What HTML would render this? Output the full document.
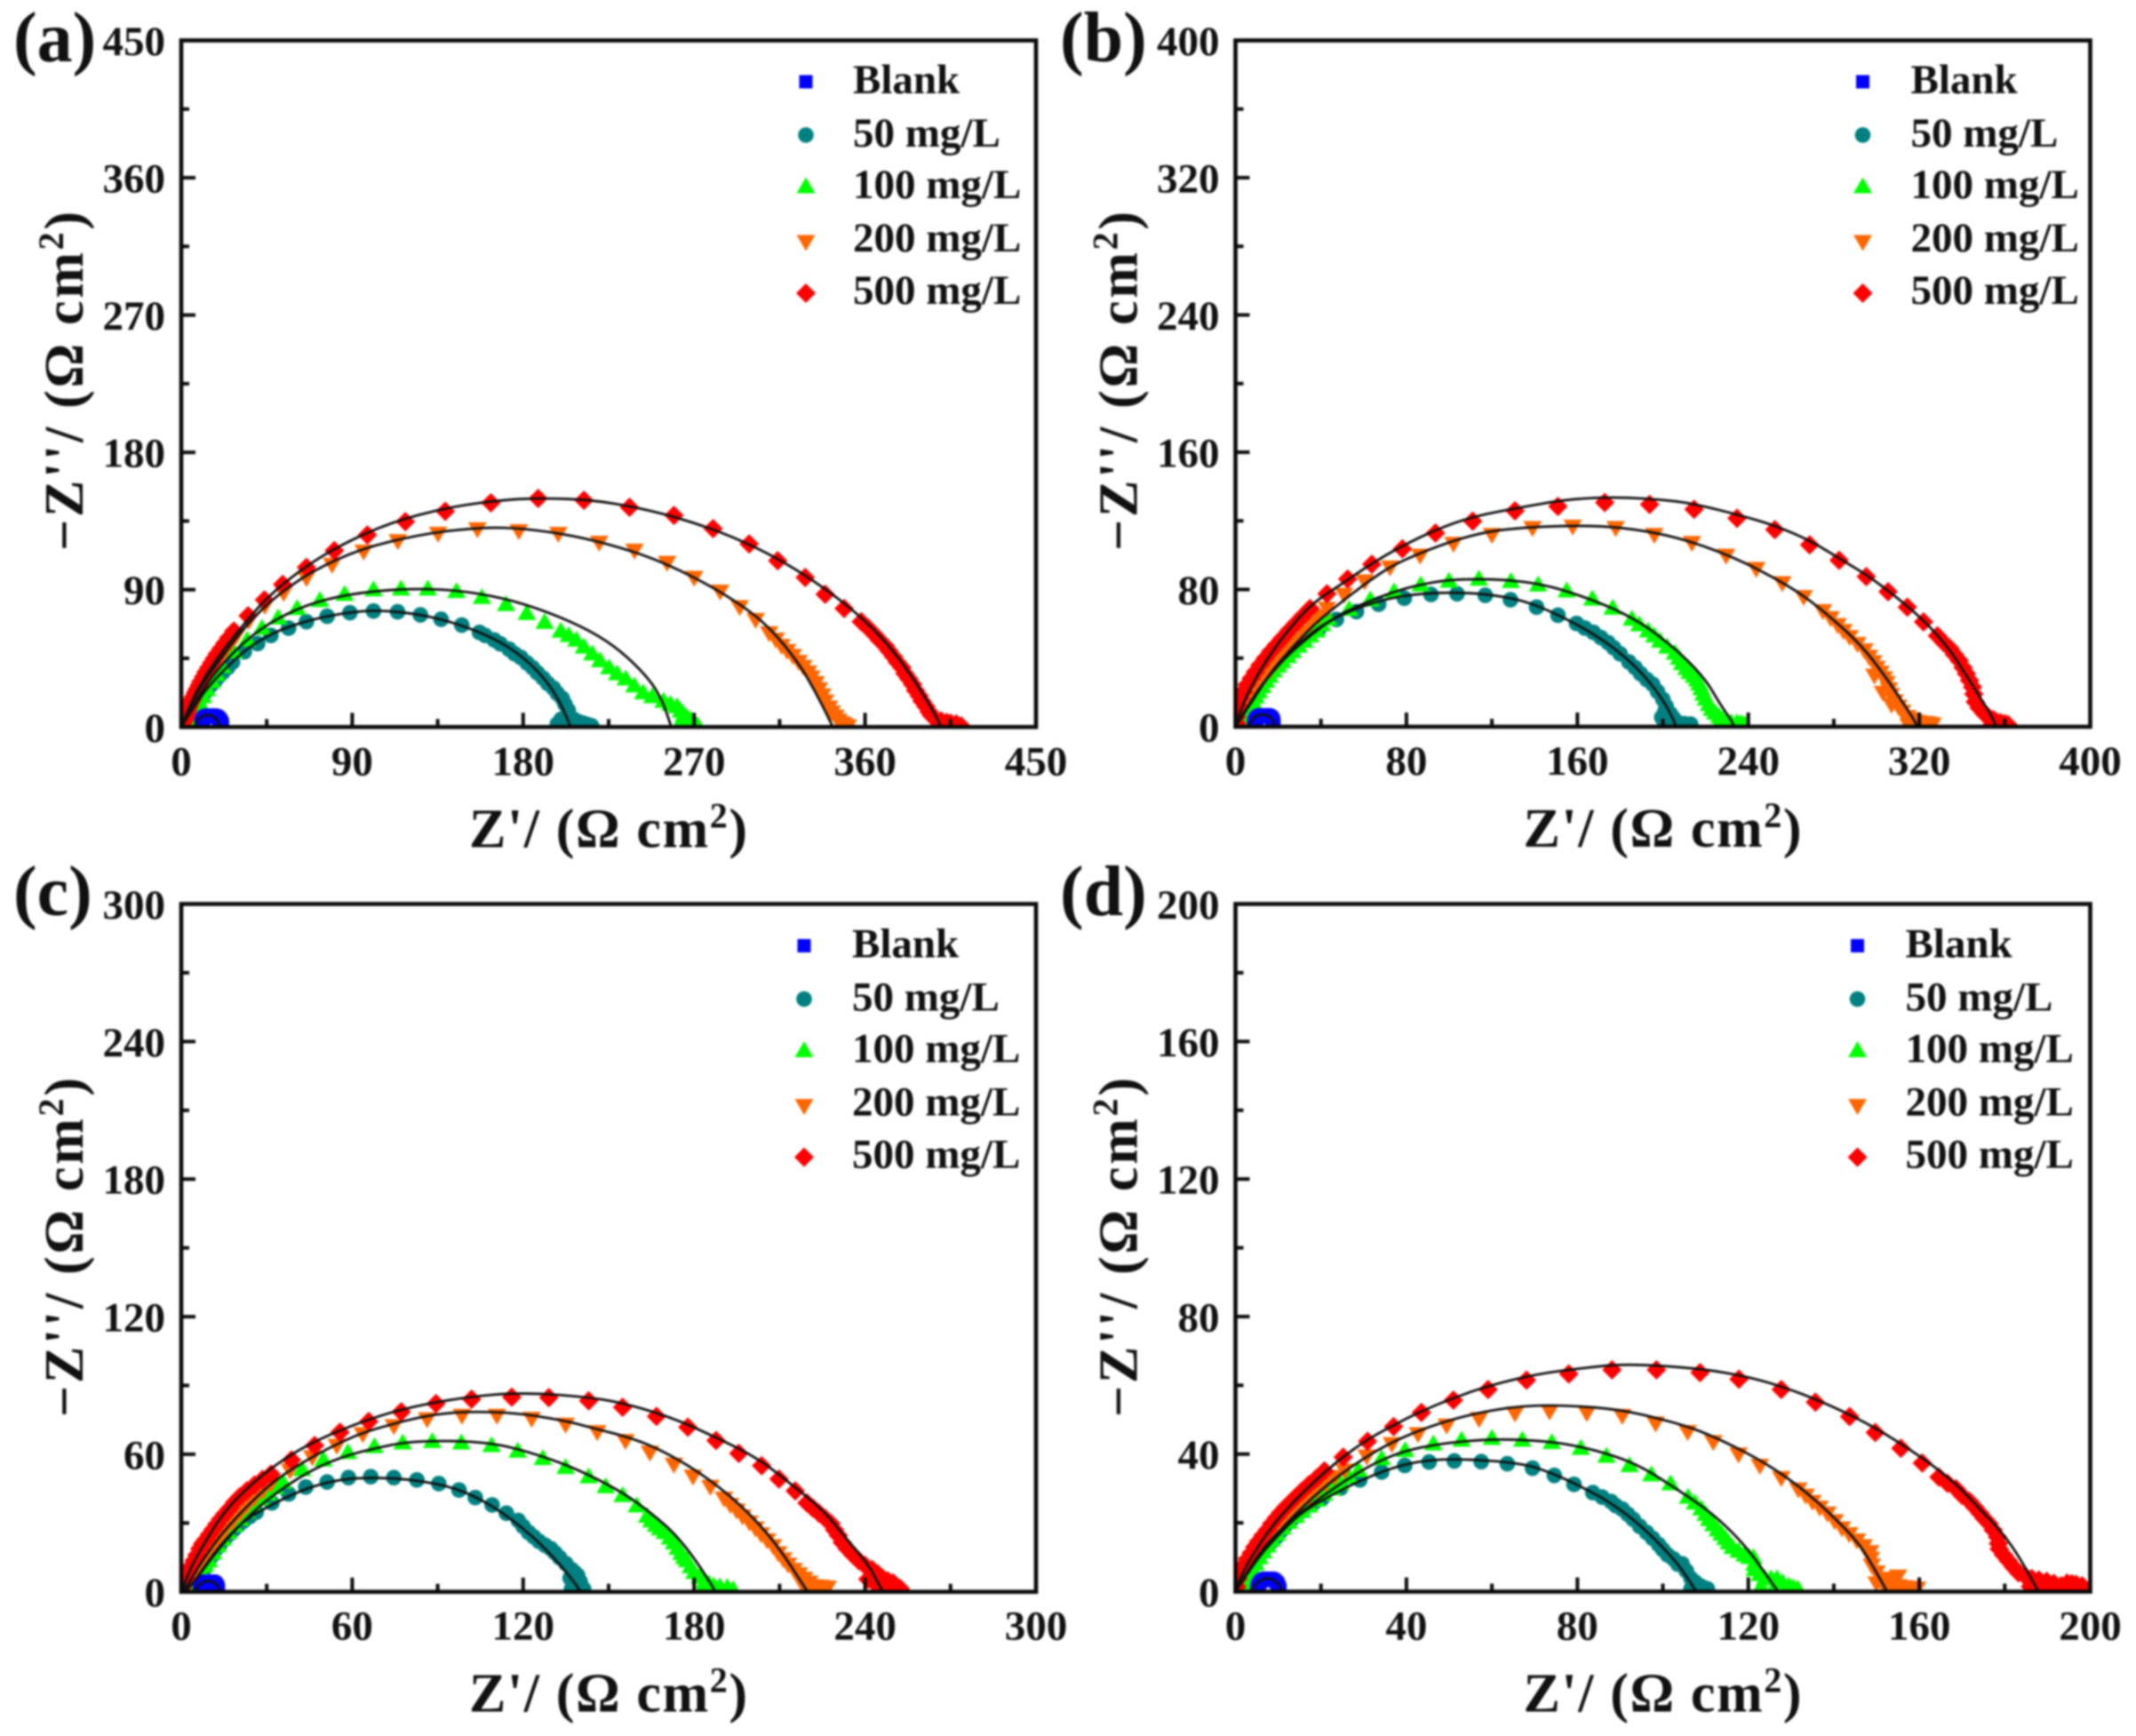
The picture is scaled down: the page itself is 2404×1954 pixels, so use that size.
<!DOCTYPE html>
<html lang="en">
<head>
<meta charset="utf-8">
<title>Nyquist plots</title>
<style>
html,body{margin:0;padding:0;background:#fff;}
#figure{display:block;width:2404px;height:1954px;filter:blur(0.95px);}
text{font-family:"Liberation Serif","DejaVu Serif",serif;font-weight:bold;fill:#111;}
</style>
</head>
<body>
<svg id="figure" xmlns="http://www.w3.org/2000/svg" width="2404" height="1954" viewBox="0 0 2404 1954"></svg>
<script>
// ---------- categories ----------
const seriesNames = ['Blank','50 mg/L','100 mg/L','200 mg/L','500 mg/L'];
const seriesColors = ['#0000ff','#008080','#00ff00','#ff6600','#ff0000'];
const seriesShapes = ['square','circle','triangle','inverted','diamond'];

// ---------- tick labels ----------
const aTicks = [0,90,180,270,360,450];
const bTicks = [0,80,160,240,320,400];
const cTicks = [0,60,120,180,240,300];
const dTicks = [0,40,80,120,160,200];

// ---------- panel (a) values [Z', -Z''] ----------
const aBlank = [[10.4,0.5],[10.5,1.8],[10.8,3],[11.1,4],[11.5,5],[12.1,6],[12.8,6.8],[13.6,7.3],[14.5,7.6],[15.2,7.8],[16,7.8],[16.9,7.6],[17.8,7.2],[18.6,6.7],[19.4,6],[20,5.2],[20.6,4.2],[21,3.2],[21.4,2.2],[21.6,1.3],[21.7,0.5]];
const a50 = [[1,1],[2,3],[3,5.5],[4.4,8],[5.5,10.5],[7,13],[8.2,15.5],[9.5,17.5],[11,20],[12.5,22.5],[14,25],[16,27.9],[18,30.5],[20,33.5],[22,36],[24.5,39],[27,42.5],[33.2,49.3],[40.2,54.7],[47.2,60],[56.5,64.8],[65.9,69],[76.8,72.6],[88.8,74.9],[101.2,76],[113.9,75.5],[125.9,73.5],[136.8,70.6],[147.7,66.8],[157,62],[160,60],[164.8,57],[168,54.5],[172.6,51],[175.5,48],[178.8,45.6],[182,42],[185,38.8],[187.5,35.5],[190.5,32],[193,28.5],[195.9,25.5],[198,22],[200.6,18.7],[202,15],[203.7,11],[204,7],[200,5],[198,2],[203,3],[206.7,5],[209,3.5],[211.6,2.5],[214,1.5],[216,0.8],[205,1]];
const a100 = [[1,1],[2,2.5],[3.2,4.5],[4.4,6.6],[6,9.5],[7.5,12],[9.5,16],[11.4,20],[13.5,24.5],[16,29.9],[18.5,34.5],[21.5,39.6],[27.7,49.3],[34.7,57],[42.5,64.8],[51,71.6],[61,77.8],[73,83],[86,87],[101.2,90],[115.7,90.5],[129.8,90.5],[144.9,88.9],[158.3,85],[171,80.3],[181.9,74.5],[191.3,68.7],[199.8,62.9],[204,60],[208,57],[212,52.5],[216.4,48],[220.5,43.5],[225.3,38.9],[229.5,35],[234,31.6],[238.5,27],[243.2,22.5],[248,20],[253.9,17],[257.5,15],[261,13.4],[263,10.5],[264.7,8],[266.5,6],[268.3,4.4],[270,2.5],[270.8,1.5],[272,0.7],[262,1],[266,1]];
const a200 = [[1.5,3],[2.5,6],[4,10],[6,15],[8,20],[10,26],[11.5,29],[13,32],[14.5,35],[16,38],[18,41.5],[20,45],[22,48.5],[24,52],[26.5,56],[29,60],[35.5,69.7],[44,79.6],[53.9,88],[65.9,97.8],[79.4,106.5],[96,115.2],[114,122],[135.2,126.9],[155.9,129.8],[177.7,128.6],[198.5,126.8],[220,121],[238.6,115.8],[255.8,107.8],[270,98],[283.7,89],[294,78.8],[302.4,70.4],[309.5,61.7],[313,57.5],[316,53.4],[319,50],[322,46.8],[325,43],[327.5,39.6],[330,36],[331.8,32.7],[334,29],[335.7,25],[337.5,21],[339,17],[341,13],[342.5,9.8],[344.5,7],[346,4.4],[348,2.5],[349,1.5],[351,0.7]];
const a500 = [[1,1],[1.5,4],[2,5.5],[2.5,7],[3,9],[3.5,11],[4.2,13.5],[5,16],[5.8,18],[6.5,20],[7.5,22.5],[8.5,25],[9.5,27.5],[10.5,30],[11.8,33],[13,36],[14.5,39],[16,42],[17.5,45],[19,48],[21,51.5],[23,55],[25,58.5],[27.7,62.9],[35.2,72.9],[43.8,83.3],[53.4,93.5],[65.9,104.6],[80.6,115.6],[98,125.9],[118,134.6],[139,141.4],[163,146.9],[187.9,149.8],[212,148.6],[236,144],[259.4,138.7],[280,130],[299,120],[314,109],[328.5,98],[339,87],[349,77.7],[358,69],[361.5,65],[365,60.6],[367.5,57],[370.5,53.4],[372.5,50],[375,46],[377,42.5],[379.4,39],[381,35],[383,31.6],[385,28],[386.6,24],[388.5,20.5],[390,17],[392,13.5],[393.7,10],[395,7.5],[397,5],[400,4],[403,3],[405,2.5],[408,2],[410.6,0.7],[406,0.7],[400,1]];
const aBlankFit = [[7,0],[8.5,4.5],[11,7],[13.5,8.1],[16,7.6],[18.5,5.5],[19.8,2.5],[20,0]];
const a50Fit = [[0,0],[5,10],[12,23],[22,37],[35,52],[50,63],[70,71],[90,75.5],[105,76.5],[125,74],[145,68],[165,58],[180,46],[192,31],[200,15],[205,0]];
const a100Fit = [[0,0],[5,11],[12,26],[22,42],[35,58],[50,71],[70,82],[95,88.5],[125,91],[150,89],[175,83],[200,72],[220,60],[235,46],[248,29],[254,15],[258,0]];
const a200Fit = [[0,0],[5,15],[12,30],[22,47],[35,68],[50,86],[70,103],[95,117],[125,126],[150,130],[172,131],[200,127],[225,120],[250,110],[275,95],[295,80],[310,65],[325,42],[333,25],[340,8],[343,0]];
const a500Fit = [[0,0],[5,16],[12,32],[20,47],[30,63],[45,85],[65,105],[85,120],[110,134],[140,144],[170,149],[190,150],[215,149],[240,144],[265,136],[290,125],[315,110],[340,90],[360,70],[375,50],[388,27],[397,8],[400,0]];

// ---------- panel (b) values ----------
const bBlank = [[8.5,0.5],[8.7,1.8],[9,3],[9.4,4.1],[10,5],[10.7,5.8],[11.5,6.5],[12.2,6.8],[13,7],[13.8,7],[14.5,6.8],[15.3,6.5],[16,6],[16.7,5.3],[17.2,4.5],[17.6,3.5],[17.8,2.5],[18,1.5],[18,0.5]];
const b50 = [[1,1],[2.5,4],[3.5,6],[4.6,8.5],[6,11],[7.4,13.7],[8.8,16.5],[10.2,19.6],[12,23],[13.6,26.6],[15.3,30],[17.1,33.5],[19,36.5],[21.2,39.5],[23.7,42.5],[26.4,45.6],[32.3,51.3],[39,56.8],[47.2,62.5],[56.6,67.1],[67,71.4],[79,74.9],[91.5,77.1],[103.7,77.5],[116.9,76.6],[128.7,74],[140.9,69.7],[150.9,65],[159.6,60.2],[163.5,57.5],[167.5,55],[171,52],[174.4,49],[177,46],[180,42.5],[184.1,37.8],[187,34.5],[189.6,30.9],[192.5,27.5],[195.2,24.8],[197.5,20.5],[200,16],[201.5,12],[203.5,7.6],[205,5],[207,2.4],[210,1.8],[213,1.5],[200.8,2.4],[199.5,5.5],[201,9],[204,1]];
const b100 = [[1.5,1],[3.2,4],[4.2,6],[5.3,8.5],[6.7,11.5],[8.1,14.5],[9.5,17.5],[10.9,20.5],[12.6,23.5],[14.3,26.6],[16,29.5],[17.8,32.6],[20,35.5],[22,38],[24.5,41],[26.8,43.8],[29.5,47],[32.3,49.9],[35,53],[37.9,55.9],[40.5,59.5],[43.4,62.8],[53.2,68.5],[63.1,74],[74.2,78.7],[86.7,82.7],[99.9,84.9],[113.9,86.1],[128.9,84.7],[141.6,82.7],[155,79.2],[167,74.5],[176.5,69.2],[185.5,62.8],[189,59.5],[193.1,55.9],[196,53],[198.7,50],[202,46.5],[205.6,43],[207.5,40],[209,36.9],[211,34],[212.5,31.7],[214.5,29.5],[216,27.4],[217,25],[218,22.2],[219,19],[220.1,16.2],[221.5,13],[222.9,10.2],[224.5,8],[226.4,5.9],[228,4],[229.8,2.4],[232,2.4],[234.7,2.4],[236.5,2],[238.2,1.5],[226,1],[230,1]];
const b200 = [[0.9,5],[2,8],[3.2,11],[5,14.5],[6.7,18],[8.8,22],[10.9,25.7],[13.5,29.5],[16.4,33.5],[19,37.5],[21.9,42],[25,46.5],[28.2,50.7],[31.5,55.5],[35.1,60.2],[38.8,64.5],[42.8,68.9],[50.8,77.1],[60.5,84.9],[72.3,93],[86.4,99.9],[102,106.8],[120,112],[139,116],[157.8,116.8],[177.9,116],[196,112],[213.6,107.3],[229.6,99.9],[243.7,92.2],[255.9,83.9],[265.9,75.8],[274.9,67.6],[278.5,63.5],[281.8,59.4],[284.5,56],[287.4,52.5],[291,48.5],[294.3,44.7],[296.5,41],[298.5,37.8],[300,34.5],[301.9,31.7],[303.5,28.5],[304.7,25.7],[305.8,22],[306.8,18.8],[308.5,15],[310.2,11.9],[312,9],[314.4,5.9],[316,4.5],[317.9,3.3],[320,2.8],[322.7,2.4],[324.5,2],[326.2,1.5],[315,1],[320,1],[299,30],[303,20],[307,13]];
const b500 = [[0.5,2],[0.5,5.8],[0.8,9],[1.1,12.7],[2.3,16.5],[3.9,20.5],[5.5,24.5],[7.4,28.3],[9.3,32],[11.5,36],[14,40],[16.4,43.8],[19,47.5],[21.9,51.6],[25,56],[28.2,60.2],[31.5,64.5],[34.9,68.9],[42.8,77.5],[52.5,86.1],[63.8,94.7],[78.1,103.7],[93.6,112.9],[111,119.8],[130.8,125.8],[150.9,128.4],[172.8,130.7],[193.8,129.6],[214.6,126.7],[234.7,121.5],[252.4,114.9],[268.7,106],[282.5,97],[295.2,87.5],[305.4,78.7],[314.4,69.7],[322,61.1],[328.5,53],[331.5,49],[334.5,45.5],[336.5,42],[338.7,38.6],[340.5,34.5],[342.1,30.9],[343.5,27],[344.9,23.1],[345.5,19],[346.2,14.5],[348,11],[350.4,7.6],[352.5,5.5],[354.6,4.1],[356,3],[358,2.4],[360,1.8],[361.5,1.2],[354,1],[358,1]];
const bBlankFit = [[6,0],[7.5,4],[10,6.5],[12,7.2],[15,6.8],[17,5],[18,2.5],[18.5,0]];
const b50Fit = [[0,0],[1.1,2.4],[5.3,11],[12.3,24.8],[22,38.6],[33,52.5],[44.1,62],[58,69.7],[71.9,74.9],[85.7,77.5],[101,78.3],[116,77.5],[134.2,74],[150.9,65.4],[168.9,53.3],[182.7,40.4],[192.4,28.3],[200.7,14.5],[205.6,2.4],[206,0]];
const b100Fit = [[0,0],[1.1,2.4],[6.7,12.7],[13.6,26.6],[23.3,40.4],[34.4,52.5],[46.9,64.5],[60.8,72.3],[73.2,78.3],[85.7,82.7],[99.6,85.6],[113.4,86.1],[127.3,85.6],[141.1,83.5],[155,79.2],[175.8,69.7],[189.6,60.5],[197,54],[209,42],[220.1,27.4],[227,12.7],[232.6,2.8],[233,0]];
const b200Fit = [[0,0],[3.9,7.6],[9.5,18],[16.4,31.7],[26.1,45.6],[37.2,60.2],[48.3,71.4],[60.8,83.5],[73.2,93.9],[87.1,101.6],[102.3,108.6],[117.6,113.7],[134.2,116],[155,117.2],[175.8,116.8],[198,112.9],[216,106.8],[234,98.2],[250.6,87.8],[265.9,76.6],[281.1,61.1],[293.6,46.4],[304.7,28.3],[313,12.7],[317.9,3.3],[319,0]];
const b500Fit = [[0,0],[3,12],[8,25],[15,40],[25,57],[36,72],[48.3,82],[63.5,95],[77.4,105],[94,115],[111,122.5],[134,128],[155,132.5],[178,134],[203,132],[216,129.5],[237,123],[253,117],[269,108.5],[284,97],[296,88],[310,75],[323,61],[334,45.5],[342,30],[349,16],[354,6],[356,0]];

// ---------- panel (c) values ----------
const cBlank = [[6.4,0.4],[6.5,1.2],[6.8,2],[7.1,2.8],[7.6,3.5],[8.2,4],[8.8,4.4],[9.4,4.6],[10,4.7],[10.6,4.6],[11.2,4.3],[11.8,3.8],[12.2,3.2],[12.6,2.5],[12.8,1.8],[13,1],[13,0.4]];
const c50 = [[3,1],[5,2.6],[6,5],[7,7.8],[8.3,10.5],[9.7,13.6],[11,16],[12.3,18.8],[13.8,21],[15.4,23.3],[17,25.3],[18.5,27.2],[20,29],[21.8,30.8],[24,32.8],[26.3,34.7],[31.8,38.8],[37.7,42.7],[43.7,45.7],[51.2,47.9],[58.7,49.8],[66.5,50.2],[74.6,49.8],[82.7,48.8],[90.4,47.2],[97.5,44.4],[103.2,41.1],[109.1,37.9],[114.1,34.3],[118.3,31.1],[120,28.5],[121.9,25.9],[123.7,24],[125.6,22],[127.7,20.3],[129.7,18.8],[131.2,17],[132.8,14.9],[135,12.3],[137,9.7],[138,8.5],[139.1,7.2],[140,4.5],[141.2,1.3],[139,3],[137,1.3],[138,3.5],[136.5,6]];
const c100 = [[2,1],[3.5,3],[5,5],[6,7.2],[7,9],[8.3,11.5],[9.7,13.6],[11.2,17],[12.8,20.1],[14.5,23],[16.4,25.9],[18.5,29],[20.6,31.7],[23,35],[25.2,38.2],[27.8,40.5],[30.4,42.7],[33,45.5],[35.6,47.9],[42.4,53.4],[49.9,57.5],[58.5,60.8],[67.8,63.4],[77.7,65],[88.1,65.6],[98.3,65],[108.9,63.8],[118.1,61.4],[126.9,58.2],[134.9,54.3],[143,50.2],[149,45.9],[154.9,42],[159.9,37.5],[163.5,33],[165,31],[166.6,29.1],[168,27.5],[169.7,25.9],[171.5,23.5],[172.9,21.4],[174.2,19],[175.5,16.8],[176.5,15],[177.5,13.6],[178.8,11],[180.1,8.5],[182,6.5],[183.8,4.6],[185.2,3.5],[186.9,2.6],[189,2.3],[191.6,2],[193.7,1],[183,1.5],[187,1]];
const c200 = [[0.5,1],[1.3,3],[2.5,5.5],[3.9,7.8],[5.4,10.7],[7,13.6],[9,17],[11.2,20.1],[13.2,23.5],[15.4,27.2],[18,30.7],[20.6,34.3],[23,37.5],[25.7,40.8],[28.5,44],[31.5,47.2],[38.2,53],[46,58.8],[54.6,63.8],[63.7,68.9],[74.6,72.4],[86.3,75.4],[98.5,76.9],[110.8,76.9],[123,75.6],[134.9,73],[146,69.8],[155.9,65.9],[164.5,60.8],[172.9,55.6],[179.6,50.4],[185.7,45.9],[190.5,40.8],[192.7,38],[194.9,35.6],[197,33],[199.4,30.4],[201.5,27.8],[203.5,25.2],[205.6,22.6],[207.7,20.1],[209.5,17],[211.3,14.3],[213,12],[215,9.7],[216.8,7.8],[218.6,5.9],[220.4,4.2],[222.2,2.6],[224.5,2.4],[226.9,2],[225.4,1],[221,1],[218,3.5]];
const c500 = [[0.5,2],[0.8,3.9],[1.6,6],[2.4,8.5],[3.4,11],[4.5,13.6],[5.5,16],[6.5,18.8],[7.5,21],[8.6,22.7],[9.9,25],[11.2,27.2],[12.5,29.5],[13.8,31.7],[15.3,34],[16.9,36.2],[18.7,39],[20.5,41.4],[23,44],[25.7,46.6],[28.5,49],[31.5,51.3],[38.7,57.5],[46.8,63.8],[55.7,69.6],[65.8,74.3],[77.2,78.5],[89.4,82.1],[101.9,84],[116,84.9],[129,84.7],[143,83.3],[154.9,80.5],[166.8,76.5],[177.8,71.8],[187.7,66],[195.7,60.4],[203.7,55],[209.8,49.2],[215.5,44],[219.6,38.8],[221.7,36.5],[223.8,34.3],[226,32],[228,29.8],[229.3,27],[230.6,24.6],[232,21.5],[233.7,18.8],[235.8,16],[237.8,13.6],[240,11.5],[242.5,9.7],[244.5,7.8],[246.2,5.9],[248,4.8],[249.8,3.9],[251,2.5],[252.4,1.4],[248,1],[244,3],[241,5.5]];
const cBlankFit = [[4.5,0],[5.5,2.5],[7.5,4.2],[9.5,4.8],[11.5,4.2],[13,2.5],[13.5,0]];
const c50Fit = [[0,0],[2.9,1.3],[8.1,11],[14.3,21.4],[22.6,31.7],[31,37.5],[39.3,42.7],[47.6,46.6],[57,49.2],[67.4,49.8],[78.8,49.2],[92.3,46.6],[102.7,42],[113.1,34.3],[123.5,24],[130.8,14.9],[136,7.2],[139.6,1.3],[140,0]];
const c100Fit = [[0,0],[2.9,1.3],[9.1,12.3],[17.5,25.2],[26.8,36.9],[37.2,46.6],[47.6,54.3],[58,59.5],[68.4,62.7],[78.8,65.3],[92.3,65.9],[104.8,65.3],[115.1,63.4],[130.8,57.5],[143.2,51],[155.7,42.7],[165,34.3],[173.4,25.2],[180.7,13.6],[186.9,1.4],[187.5,0]];
const c200Fit = [[0,0],[1.9,2],[6,11],[13.3,24],[21.6,35.6],[32,47.9],[42.4,56.3],[52.8,63.4],[63.2,69.2],[73.6,73],[84,76.3],[94.4,78.2],[106.8,78.6],[120.3,77.6],[136,74.3],[144,71.5],[155.9,67.9],[167.1,62.7],[181.7,52.4],[196.3,38.2],[208.7,21.4],[219.1,1.3],[220,0]];
const c500Fit = [[0,0],[3,10],[8,21],[15,35],[25,47.5],[36,58],[48,66.5],[65,75],[80,80.5],[100,85],[120,87],[145,84.7],[158,81.4],[173,75.6],[188,67.2],[202.5,58.2],[215,46],[225.4,35.6],[233.7,22.7],[241,12.3],[245.6,1.4],[246.5,0]];

// ---------- panel (d) values ----------
const dBlank = [[5,0.3],[5.1,1],[5.3,1.7],[5.6,2.4],[6,3],[6.5,3.4],[7,3.7],[7.5,3.9],[8,3.9],[8.5,3.7],[9,3.4],[9.4,2.9],[9.8,2.4],[10,1.8],[10.2,1.2],[10.3,0.7],[10.4,0.3]];
const d50 = [[1,1],[2,3],[2.8,4.7],[3.7,6.4],[4.5,8.2],[5.4,9.9],[6.4,11.6],[7.5,13.3],[8.5,14.6],[9.6,15.9],[10.6,17.6],[11.7,19.3],[12.9,20.6],[14.1,21.9],[15.5,23.4],[16.9,24.9],[18.5,26],[20.3,27.1],[24.6,30.1],[29.1,32.5],[34.2,34.8],[39.6,36.7],[45.3,37.7],[51.2,38],[57.5,37.8],[63.6,37.2],[69.5,35.9],[74.6,33.8],[79.2,31.2],[83.6,28.8],[85.8,27.5],[87.9,26.2],[89,25],[90.5,24],[91.8,22.5],[93.1,21],[94.6,19],[96.2,17.2],[97.6,15.5],[99,13.7],[100,12.2],[101.1,10.7],[102.5,9.5],[103.5,8],[104.5,8.1],[105.5,6],[106.6,3.8],[107.6,2.7],[108.7,1.7],[109.5,1.2],[110.4,0.8],[106.6,0.8],[108,0.8]];
const d100 = [[1.5,0.5],[2.3,1.2],[2.8,3],[3.4,4.7],[4,6.4],[4.7,8.1],[5.6,9.9],[6.5,11.6],[7.5,13.3],[8.5,15],[9.7,16.7],[11,18.5],[12.5,20.2],[14.1,21.9],[15.6,23.4],[17.2,24.9],[18.9,26.6],[20.7,28.4],[22.6,29.9],[24.5,31.4],[26.6,33.3],[28.8,35.3],[34.2,38.7],[39.7,41.1],[46.3,43],[52.9,44.1],[60,44.6],[67.1,44.1],[74,43.4],[80.8,41.7],[86.8,39.4],[92.2,36.7],[97.3,34],[101.8,31.4],[105.9,27.5],[107.5,25.8],[109,24.1],[110,22.5],[110.8,21],[111.8,19.5],[112.8,18],[113.7,16.8],[114.6,15.5],[115.4,14.2],[116.3,12.9],[117.7,11.8],[119.1,10.7],[120.2,10],[121.2,9.9],[121.4,8],[121.5,6.4],[122.7,5],[123.9,3.8],[125.3,3.8],[126.7,3.8],[128,2.7],[129.5,1.7],[130.5,1.2],[131.6,0.8],[123,1.5],[126,1]];
const d200 = [[0.5,2],[1,3.8],[1.8,6],[2.7,8.1],[3.7,9.9],[4.7,11.6],[6,13.7],[7.5,15.9],[8.9,17.6],[10.3,19.3],[11.8,21.5],[13.4,23.6],[15.3,25.6],[17.2,27.5],[19,29.5],[21,31.4],[23.2,33.4],[25.5,35.3],[30.7,39.4],[36.6,43],[42.7,45.9],[49.4,48.4],[57,50.3],[65.4,51.9],[73.5,52.5],[82.2,52],[90.5,51.2],[98.3,49],[105.8,46.5],[111.8,43.6],[117.7,40],[122.7,36.7],[127.7,33.1],[131.7,29.8],[133.4,28],[135,26.2],[136.7,24.5],[138.5,22.8],[140.2,20.6],[141.9,18.5],[143.6,16.8],[145.4,15],[147,13.3],[148.5,11.6],[148.7,9.7],[148.9,7.7],[150,5.7],[151,3.8],[152,3.8],[153,3.8],[155,4.5],[154,3],[155.1,1.7],[156.5,1.4],[157.9,1.2],[159.5,1],[152,1.2],[154,1.2],[150,2.5]];
const d500 = [[0.3,1.5],[0.6,3.8],[1.3,5.8],[2,7.7],[2.8,9.5],[3.7,11.2],[4.5,13],[5.4,14.6],[6.4,16.3],[7.5,18],[8.5,19.8],[9.6,21.5],[10.6,23],[11.7,24.5],[12.9,26],[14.1,27.5],[15.6,29.3],[17.2,31.1],[19,33],[20.8,35.1],[25.2,39.1],[30.9,43.7],[37,48],[43.5,52.1],[51,55.7],[59.1,58.8],[68.1,61.5],[78,63.3],[88.1,64.5],[98.5,64.5],[108.7,63.7],[117.8,61.8],[127.7,58.8],[135.7,55.1],[143.7,50.9],[149.7,46.3],[155.7,41.7],[160.7,37.4],[164.6,33.3],[166.6,31.5],[168.6,29.9],[170,28],[171.8,26.2],[173,24.5],[174.2,22.8],[175.2,21.3],[176.3,19.8],[177.3,17.9],[178.3,15.9],[178.5,14],[178.7,12.4],[179.7,10.7],[180.8,9],[182,7.2],[183.2,5.5],[184.7,4.6],[186.3,3.8],[188,3.4],[189.8,3],[191.5,2.4],[193.2,1.7],[194.6,2.5],[195.7,2.3],[196.7,2.1],[198.1,1.7],[188.4,1.7],[190.5,1],[186,1.5],[192,1],[195,1],[197.5,1]];
const dBlankFit = [[3.5,0],[4.5,2],[6,3.4],[7.5,4],[9,3.5],[10.3,2],[11,0]];
const d50Fit = [[0,0],[4.7,9],[9.6,15.9],[15.1,22.8],[22.1,27.9],[29,32.2],[35.9,35.7],[42.9,38],[51.9,38.7],[67.1,37.4],[74.2,34.4],[81,30.5],[87.9,25.8],[94.8,19.3],[101,11.6],[104.5,6.4],[107.6,0.4],[108,0]];
const d100Fit = [[0,0],[2.7,5.6],[6.8,13.3],[12.4,20.2],[18.6,26.2],[25.5,32.2],[32.5,37.4],[39.4,40.9],[47.7,43],[56.7,44.1],[63.6,44.3],[70.6,43.9],[77.5,43],[86.5,40.4],[94.8,36.6],[104.5,28.8],[111.5,22.8],[117.7,15.5],[121.9,9],[126.7,0.4],[127,0]];
const d200Fit = [[0,0],[4.7,9.9],[9.6,16.7],[15.1,24],[22.1,31.8],[28.3,37.4],[35.2,42.6],[42.9,46.9],[51.2,50.3],[58.8,52.5],[67.1,54],[75.4,54.2],[84.4,53.6],[91.4,52.5],[97.6,50.8],[106.6,47.8],[114.9,43.4],[124.6,37],[132.9,29.7],[140.6,21],[146.1,13.7],[149.6,6.4],[152.3,0.4],[152.5,0]];
const d500Fit = [[0,0],[1.3,4.7],[4,10.7],[8.2,18.5],[13,25.4],[18.6,32.2],[24.2,38.3],[30.4,43.9],[36.6,48.2],[43.5,52.5],[51.9,56.8],[60.2,60.2],[70.6,63.3],[81,65],[91.4,66.3],[108,65],[119.8,62.6],[129.5,59],[139.2,54.2],[149.6,47.8],[160,39.6],[168.3,31.8],[173.8,24.5],[179.4,17.2],[183.5,9.9],[187.7,0.4],[188,0]];

// ---------- groupings of the arrays above ----------
const aMarkers = [a50,a100,a200,a500,aBlank];
const bMarkers = [b50,b100,b200,b500,bBlank];
const cMarkers = [c50,c100,c200,c500,cBlank];
const dMarkers = [d50,d100,d200,d500,dBlank];
const markerSeriesIndex = [1,2,3,4,0];
const aFits = [aBlankFit,a50Fit,a100Fit,a200Fit,a500Fit];
const bFits = [bBlankFit,b50Fit,b100Fit,b200Fit,b500Fit];
const cFits = [cBlankFit,c50Fit,c100Fit,c200Fit,c500Fit];
const dFits = [dBlankFit,d50Fit,d100Fit,d200Fit,d500Fit];

const panels = [
 {id:'a',left:204,right:1166,top:45.5,bottom:818.3,ticks:aTicks,markers:aMarkers,fits:aFits,labelX:15,labelY:69,legX:907,legTextX:960,legDY:0,titleY:429},
 {id:'b',left:1390.5,right:2352.5,top:45.5,bottom:818,ticks:bTicks,markers:bMarkers,fits:bFits,labelX:1193,labelY:69,legX:2096.5,legTextX:2150.5,legDY:0,titleY:429},
 {id:'c',left:204,right:1166,top:1017.5,bottom:1791.7,ticks:cTicks,markers:cMarkers,fits:cFits,labelX:15,labelY:1030,legX:905,legTextX:959,legDY:972.5,titleY:1404},
 {id:'d',left:1390.5,right:2352.5,top:1017.5,bottom:1791.5,ticks:dTicks,markers:dMarkers,fits:dFits,labelX:1193,labelY:1030,legX:2090.5,legTextX:2144.5,legDY:972.5,titleY:1404}
];
const legendCenters = [92,152,210,272,330];
const legendBaselines = [105,165,223,283,342];

const NS = 'http://www.w3.org/2000/svg';
const root = document.getElementById('figure');

function mk(tag, parent, attrs){
  const el = document.createElementNS(NS, tag);
  for (const k in attrs) el.setAttribute(k, attrs[k]);
  parent.appendChild(el);
  return el;
}
function shapeMarker(parent, shape, px, py, color, k){
  let el;
  if (shape === 'circle') {
    el = mk('circle', parent, {cx:px, cy:py, r:8.8*k, fill:color});
  } else {
    let d = '';
    if (shape === 'square') d = `M${px-7.5*k} ${py-7.5*k}H${px+7.5*k}V${py+7.5*k}H${px-7.5*k}Z`;
    if (shape === 'triangle') d = `M${px} ${py-10.5*k}L${px+10.5*k} ${py+7.5*k}H${px-10.5*k}Z`;
    if (shape === 'inverted') d = `M${px} ${py+10.5*k}L${px+10.5*k} ${py-7.5*k}H${px-10.5*k}Z`;
    if (shape === 'diamond') d = `M${px} ${py-11*k}L${px+11*k} ${py}L${px} ${py+11*k}L${px-11*k} ${py}Z`;
    el = mk('path', parent, {d:d, fill:color});
  }
  return el;
}
function smoothPath(pts){
  let d = `M${pts[0][0]} ${pts[0][1]}`;
  for (let i = 1; i < pts.length - 1; i++) {
    const mx = (pts[i][0] + pts[i+1][0]) / 2;
    const my = (pts[i][1] + pts[i+1][1]) / 2;
    d += `Q${pts[i][0]} ${pts[i][1]} ${mx} ${my}`;
  }
  const last = pts[pts.length-1];
  d += `L${last[0]} ${last[1]}`;
  return d;
}
function addTitle(parent, prefix, attrs, length){
  const t = mk('text', parent, attrs);
  t.setAttribute('textLength', length);
  t.setAttribute('lengthAdjust', 'spacing');
  const a = document.createElementNS(NS, 'tspan');
  a.textContent = prefix + ' (Ω cm';
  t.appendChild(a);
  const s = document.createElementNS(NS, 'tspan');
  s.setAttribute('font-size', '40');
  s.setAttribute('dy', '-22');
  s.textContent = '2';
  t.appendChild(s);
  const c = document.createElementNS(NS, 'tspan');
  c.setAttribute('dy', '22');
  c.textContent = ')';
  t.appendChild(c);
  return t;
}

panels.forEach(function(p){
  const max = p.ticks[p.ticks.length-1];
  const sx = function(v){ return p.left + (v / max) * (p.right - p.left); };
  const sy = function(v){ return p.bottom - (v / max) * (p.bottom - p.top); };

  const g = mk('g', root, {});
  
  

  const clip = mk('clipPath', g, {id:'clip-' + p.id});
  mk('rect', clip, {x:p.left, y:p.top, width:p.right-p.left, height:p.bottom-p.top});

  // markers, Blank drawn last
  p.markers.forEach(function(points, order){
    const i = markerSeriesIndex[order];
    const sg = mk('g', g, {'clip-path':'url(#clip-' + p.id + ')'});
    
    
    points.forEach(function(pt){
      const m = shapeMarker(sg, seriesShapes[i], sx(pt[0]), sy(pt[1]), seriesColors[i], 1);
      
      
    });
  });
  // fitted curves
  p.fits.forEach(function(points, i){
    const path = mk('path', g, {d:smoothPath(points.map(function(pt){ return [sx(pt[0]), sy(pt[1])]; })), fill:'none', stroke:'#111', 'stroke-width':2.8, 'clip-path':'url(#clip-' + p.id + ')'});
    
    
  });

  // frame
  const frame = mk('rect', g, {x:p.left, y:p.top, width:p.right-p.left, height:p.bottom-p.top, fill:'none', stroke:'#0a0a0a', 'stroke-width':4.6});
  
  

  // ticks and labels
  p.ticks.forEach(function(v, i){
    const xt = mk('line', g, {x1:sx(v), x2:sx(v), y1:p.bottom, y2:p.bottom-16, stroke:'#0a0a0a', 'stroke-width':4});
    
    
    const yt = mk('line', g, {y1:sy(v), y2:sy(v), x1:p.left, x2:p.left+16, stroke:'#0a0a0a', 'stroke-width':4});
    
    
    if (i > 0) {
      const mid = (p.ticks[i-1] + v) / 2;
      const xm = mk('line', g, {x1:sx(mid), x2:sx(mid), y1:p.bottom, y2:p.bottom-9, stroke:'#0a0a0a', 'stroke-width':4});
      
      
      const ym = mk('line', g, {y1:sy(mid), y2:sy(mid), x1:p.left, x2:p.left+9, stroke:'#0a0a0a', 'stroke-width':4});
      
      
    }
    const xl = mk('text', g, {x:sx(v), y:p.bottom+54, 'font-size':47, 'text-anchor':'middle'});
    xl.textContent = String(v);
    
    
    const yl = mk('text', g, {x:p.left-18, y:sy(v)+16.5, 'font-size':47, 'text-anchor':'end'});
    yl.textContent = String(v);
    
    
  });

  // panel letter
  const letter = mk('text', g, {x:p.labelX, y:p.labelY, 'font-size':80});
  letter.textContent = '(' + p.id + ')';
  
  

  // axis titles
  const xTitle = addTitle(g, "Z'/", {x:(p.left+p.right)/2 - 157, y:p.bottom+135, 'font-size':62}, 313);
  
  
  const yx = p.left - 111;
  const yTitle = addTitle(g, "\u2212Z''/", {x:0, y:0, 'font-size':62, transform:'translate(' + yx + ',' + (p.titleY + 191) + ') rotate(-90)'}, 382);
  
  

  // legend
  const lg = mk('g', g, {});
  
  
  seriesNames.forEach(function(name, i){
    const entry = mk('g', lg, {});
    
    
    const sw = shapeMarker(entry, seriesShapes[i], p.legX, legendCenters[i] + p.legDY, seriesColors[i], 1);
    
    
    const tx = mk('text', entry, {x:p.legTextX, y:legendBaselines[i] + p.legDY, 'font-size':47});
    tx.textContent = name;
    
    
  });
});
</script>
</body>
</html>
